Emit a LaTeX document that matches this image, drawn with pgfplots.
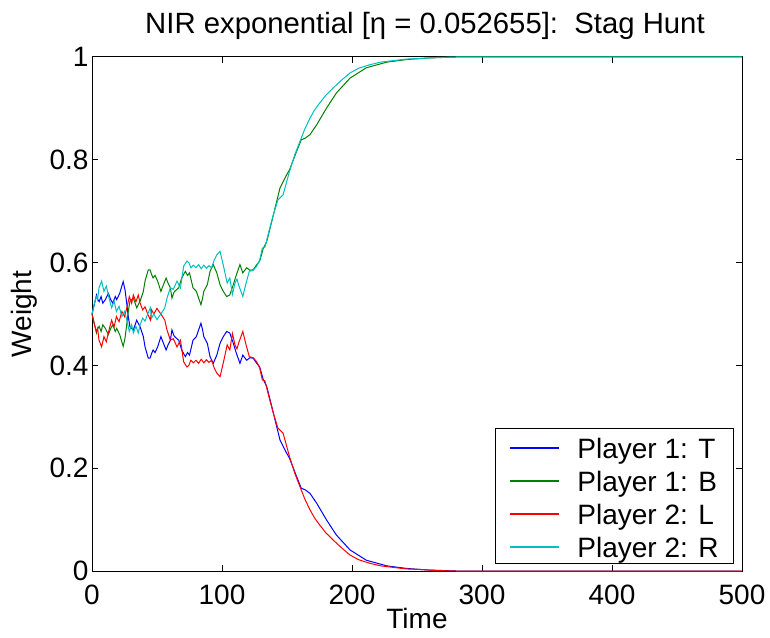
\documentclass[border=0pt]{standalone}
\usepackage{fontspec}
\setmainfont{Liberation Sans}
\usepackage{pgfplots}
\pgfplotsset{compat=1.18}
\usepackage{pgfplotstable}

\definecolor{mblue}{rgb}{0,0,1}
\definecolor{mgreen}{rgb}{0,0.5,0}
\definecolor{mred}{rgb}{1,0,0}
\definecolor{mcyan}{rgb}{0,0.75,0.75}

\pgfplotstableread{
t T B
0 0.500 0.500
1 0.510 0.490
2 0.521 0.479
3.5 0.537 0.463
4.5 0.528 0.472
5.5 0.524 0.476
7 0.534 0.466
8.3 0.521 0.479
10.3 0.528 0.472
12.6 0.540 0.460
14.4 0.528 0.472
16 0.521 0.479
17.9 0.534 0.466
19 0.528 0.472
21.3 0.540 0.460
22.8 0.553 0.447
24 0.563 0.437
25.4 0.547 0.453
26.7 0.521 0.479
27.9 0.495 0.505
29.2 0.475 0.525
31.8 0.469 0.531
34.4 0.488 0.512
37 0.475 0.525
39.5 0.456 0.544
40.8 0.436 0.564
43.3 0.414 0.586
44.6 0.414 0.586
46 0.424 0.576
47 0.430 0.570
48.5 0.425 0.575
50.5 0.436 0.564
53 0.456 0.544
54.5 0.446 0.554
57 0.430 0.570
58.5 0.440 0.560
60.3 0.449 0.551
61.5 0.469 0.531
63 0.458 0.542
64 0.455 0.545
66.7 0.449 0.551
69 0.430 0.570
71.8 0.417 0.583
73.5 0.425 0.575
75 0.420 0.580
77.7 0.449 0.551
80.3 0.456 0.544
82 0.469 0.531
83.8 0.482 0.518
85 0.470 0.530
86 0.456 0.544
88.7 0.443 0.557
90.8 0.417 0.583
93.3 0.404 0.596
96 0.420 0.580
98.5 0.443 0.557
101 0.456 0.544
103.6 0.466 0.534
106 0.463 0.537
108.7 0.443 0.557
111 0.424 0.576
113.8 0.404 0.596
116 0.420 0.580
119 0.410 0.590
121.5 0.415 0.585
124 0.414 0.586
126.7 0.404 0.596
129 0.397 0.603
131.8 0.372 0.628
134.4 0.359 0.641
137 0.333 0.667
140.8 0.294 0.706
144.6 0.255 0.745
148.5 0.235 0.765
152 0.219 0.781
157.5 0.183 0.817
161 0.161 0.839
164 0.158 0.842
167.7 0.151 0.849
172.8 0.132 0.868
180.5 0.099 0.901
188 0.070 0.930
198.5 0.041 0.959
211 0.021 0.979
226.7 0.010 0.990
242 0.005 0.995
258 0.002 0.998
280 0.000 1.000
500 0.000 1.000
}\playerone

\pgfplotstableread{
t L R
0 0.500 0.500
1.8 0.480 0.520
3.3 0.466 0.534
4.3 0.472 0.528
5.4 0.449 0.551
7.4 0.436 0.564
9.2 0.456 0.544
11 0.446 0.554
13.1 0.469 0.531
15.1 0.488 0.512
17 0.475 0.525
18.8 0.495 0.505
20.8 0.485 0.515
23 0.505 0.495
25 0.495 0.505
27 0.514 0.486
28.7 0.534 0.466
30.5 0.521 0.479
31.8 0.537 0.463
33.8 0.524 0.476
35.6 0.537 0.463
37 0.521 0.479
39 0.508 0.492
40.8 0.514 0.486
42.7 0.501 0.499
44.9 0.488 0.512
45.9 0.508 0.492
47.5 0.500 0.500
50 0.511 0.489
51.5 0.505 0.495
53 0.500 0.500
56 0.488 0.512
57.7 0.469 0.531
60.3 0.449 0.551
62.5 0.452 0.548
65.4 0.436 0.564
68 0.449 0.551
69.2 0.430 0.570
70.5 0.407 0.593
73 0.397 0.603
74.5 0.400 0.600
76 0.410 0.590
78 0.405 0.595
80 0.410 0.590
82 0.404 0.596
84 0.412 0.588
86 0.405 0.595
88 0.411 0.589
90 0.406 0.594
92 0.410 0.590
94 0.395 0.605
96 0.385 0.615
98.5 0.378 0.622
101 0.405 0.595
104 0.440 0.560
106 0.430 0.570
108 0.462 0.538
110 0.440 0.560
111.5 0.432 0.568
113 0.445 0.555
116 0.466 0.534
118.5 0.440 0.560
121 0.417 0.583
124 0.415 0.585
126.7 0.407 0.593
129 0.395 0.605
131 0.372 0.628
133 0.370 0.630
136 0.340 0.660
139.5 0.307 0.693
143 0.278 0.722
147 0.268 0.732
152 0.222 0.778
156 0.190 0.810
160 0.164 0.836
163.7 0.140 0.860
167.7 0.119 0.881
171 0.104 0.896
175 0.090 0.910
180 0.074 0.926
185.6 0.060 0.940
192 0.045 0.955
198.5 0.031 0.969
205 0.022 0.978
213.8 0.015 0.985
222 0.010 0.990
231.8 0.007 0.993
242 0.004 0.996
252 0.003 0.997
265 0.001 0.999
280 0.000 1.000
500 0.000 1.000
}\playertwo

\newcommand{\lfont}{\fontsize{28}{33}\selectfont}
\newcommand{\lstrut}{\vrule height 25pt depth 6pt width 0pt}
\newcommand{\lsample}[1]{\textcolor{#1}{\rule[9.5pt]{49pt}{1.1pt}}\hspace{18pt}}

\begin{document}
\begin{tikzpicture}
\begin{axis}[
  scale only axis,
  width=650pt, height=514pt,
  xmin=0, xmax=500, ymin=0, ymax=1,
  xtick={0,100,200,300,400,500},
  ytick={0,0.2,0.4,0.6,0.8,1},
  tick align=inside, tick pos=both,
  major tick length=6pt,
  axis line style={line width=1pt, black},
  every tick/.style={black, line width=1pt},
  font=\lfont,
  /pgf/number format/assume math mode=true,
  xticklabel style={font=\lfont, yshift=-10pt},
  yticklabel style={font=\lfont},
  title={NIR exponential [η = 0.052655]:\ \ Stag Hunt},
  title style={font=\fontsize{29.3}{35}\selectfont, at={(axis description cs:0.5,1)}, anchor=base, yshift=17pt, xshift=8pt},
  xlabel={Time},
  xlabel style={font=\lfont, at={(axis description cs:0.5,0)}, anchor=base, yshift=-57pt},
  ylabel={Weight},
  ylabel style={font=\lfont, at={(axis description cs:-0.1046,0.5)}, anchor=center},
  clip=false,
  legend cell align=left,
  legend style={at={(axis description cs:1,0)}, anchor=south east,
    xshift=-8pt, yshift=7pt, draw=black, line width=1pt,
    inner xsep=15pt, inner ysep=5pt, row sep=6.5pt,
    nodes={inner sep=0pt},
    font=\lfont},
  legend image code/.code={},
]
\addplot[mblue, line width=1pt] table[x=t, y=T] {\playerone};
\addlegendentry{\lfont\lstrut\lsample{mblue}Player 1: T}
\addplot[mgreen, line width=1pt] table[x=t, y=B] {\playerone};
\addlegendentry{\lfont\lstrut\lsample{mgreen}Player 1: B}
\addplot[mred, line width=1pt] table[x=t, y=L] {\playertwo};
\addlegendentry{\lfont\lstrut\lsample{mred}Player 2: L}
\addplot[mcyan, line width=1pt] table[x=t, y=R] {\playertwo};
\addlegendentry{\lfont\lstrut\lsample{mcyan}Player 2: R}
\end{axis}
\pgfresetboundingbox
\path[use as bounding box] ([shift={(-92pt,-66pt)}]current axis.south west) rectangle ([shift={(28pt,57pt)}]current axis.north east);
\end{tikzpicture}
\end{document}
